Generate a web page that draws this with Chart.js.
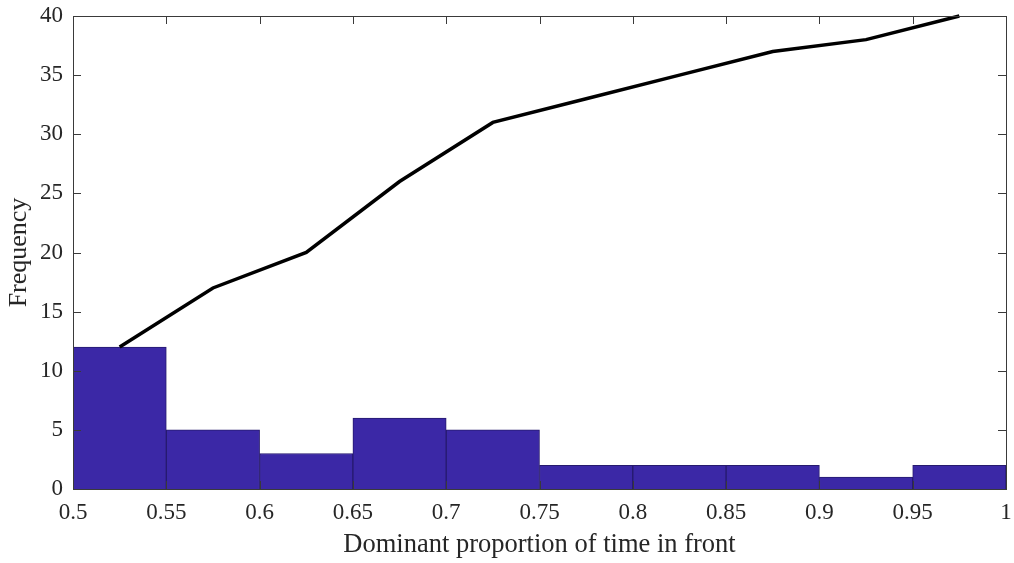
<!DOCTYPE html>
<html>
<head>
<meta charset="utf-8">
<script src="https://cdn.jsdelivr.net/npm/chart.js@4.4.1/dist/chart.umd.min.js"></script>
<style>
  html, body { margin: 0; padding: 0; background: #fff; }
  #wrap { width: 1014px; height: 563px; }
</style>
</head>
<body>
<div id="wrap"><canvas id="histChart"></canvas></div>
<script>
// Dados do histograma (centros das classes, largura 0.05)
const binCenters = [0.525, 0.575, 0.625, 0.675, 0.725, 0.775, 0.825, 0.875, 0.925, 0.975];
const counts = [12, 5, 3, 6, 5, 2, 2, 2, 1, 2];
// Frequência acumulada (linha preta)
const cumulative = [12, 17, 20, 26, 31, 33, 35, 37, 38, 40];
// Rótulos dos eixos
const xTickValues = [0.5, 0.55, 0.6, 0.65, 0.7, 0.75, 0.8, 0.85, 0.9, 0.95, 1];
const xTickLabels = ["0.5", "0.55", "0.6", "0.65", "0.7", "0.75", "0.8", "0.85", "0.9", "0.95", "1"];
const yTickValues = [0, 5, 10, 15, 20, 25, 30, 35, 40];

const FONT = "'Liberation Serif', 'Times New Roman', serif";
const AXIS_COLOR = "#3a3a3a";

// Moldura e marcas internas (estilo MATLAB)
const frameTicks = {
  id: "frameTicks",
  afterDatasetsDraw(chart) {
    const { ctx, chartArea: a, scales } = chart;
    const len = 8;
    ctx.save();
    ctx.strokeStyle = AXIS_COLOR;
    ctx.lineWidth = 1;
    ctx.beginPath();
    xTickValues.forEach((v) => {
      const px = Math.round(scales.x.getPixelForValue(v)) + 0.5;
      ctx.moveTo(px, a.bottom);
      ctx.lineTo(px, a.bottom - len);
      ctx.moveTo(px, a.top);
      ctx.lineTo(px, a.top + len);
    });
    yTickValues.forEach((v) => {
      const py = Math.round(scales.y.getPixelForValue(v)) + 0.5;
      ctx.moveTo(a.left, py);
      ctx.lineTo(a.left + len, py);
      ctx.moveTo(a.right, py);
      ctx.lineTo(a.right - len, py);
    });
    ctx.stroke();
    ctx.strokeRect(Math.round(a.left) + 0.5, Math.round(a.top) + 0.5,
      Math.round(a.right - a.left), Math.round(a.bottom - a.top));
    ctx.restore();
  },
};

function loadHistogram() {
  const ctx = document.getElementById("histChart").getContext("2d");
  new Chart(ctx, {
    data: {
      datasets: [
        {
          type: "line",
          data: binCenters.map((x, i) => ({ x: x, y: cumulative[i] })),
          borderColor: "#000000",
          borderWidth: 3.5,
          pointRadius: 0,
          tension: 0,
          fill: false,
          clip: false,
          order: 0,
        },
        {
          type: "bar",
          data: binCenters.map((x, i) => ({ x: x, y: counts[i] })),
          backgroundColor: "#3b28a6",
          borderColor: "#261a6e",
          borderWidth: 1,
          barPercentage: 1,
          categoryPercentage: 1,
          order: 1,
        },
      ],
    },
    options: {
      responsive: true,
      maintainAspectRatio: false,
      animation: false,
      layout: { padding: { top: 16, right: 8, left: 0, bottom: 0 } },
      plugins: { legend: { display: false }, tooltip: { enabled: false } },
      scales: {
        x: {
          type: "linear",
          min: 0.5,
          max: 1,
          offset: false,
          grid: { display: false, drawTicks: false },
          border: { display: false },
          afterBuildTicks(scale) {
            scale.ticks = xTickValues.map((v) => ({ value: v }));
          },
          afterFit(scale) {
            scale.height = 74;
            scale.paddingLeft = 0;
            scale.paddingRight = 0;
          },
          ticks: {
            padding: 10,
            color: "#262626",
            font: { family: FONT, size: 23 },
            maxRotation: 0,
            autoSkip: false,
            callback: (v) => xTickLabels[xTickValues.indexOf(v)],
          },
          title: {
            display: true,
            text: "Dominant proportion of time in front",
            color: "#262626",
            font: { family: FONT, size: 26.5 },
            padding: { top: 0, bottom: 2 },
          },
        },
        y: {
          min: 0,
          max: 40,
          grid: { display: false, drawTicks: false },
          border: { display: false },
          afterBuildTicks(scale) {
            scale.ticks = yTickValues.map((v) => ({ value: v }));
          },
          afterFit(scale) {
            scale.width = 73;
            scale.paddingTop = 0;
            scale.paddingBottom = 0;
          },
          ticks: {
            padding: 10,
            color: "#262626",
            font: { family: FONT, size: 23 },
          },
          title: {
            display: true,
            text: "Frequency",
            color: "#262626",
            font: { family: FONT, size: 26 },
            padding: { top: 4, bottom: 0 },
          },
        },
      },
    },
    plugins: [frameTicks],
  });
}

document.addEventListener("DOMContentLoaded", loadHistogram);
</script>
</body>
</html>
